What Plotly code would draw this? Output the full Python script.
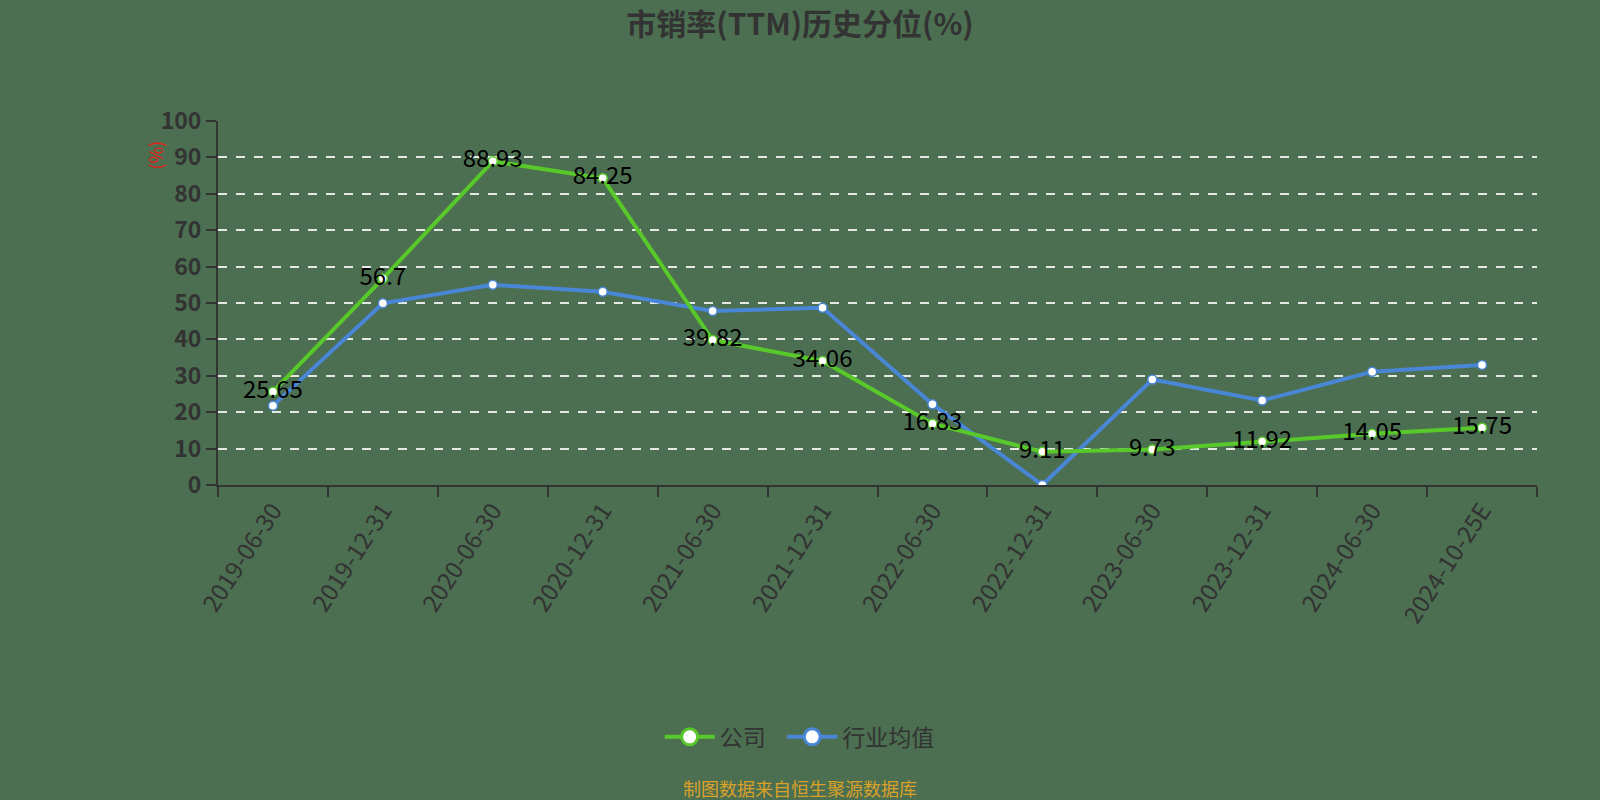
import plotly.graph_objects as go

categories = ["2019-06-30", "2019-12-31", "2020-06-30", "2020-12-31", "2021-06-30",
              "2021-12-31", "2022-06-30", "2022-12-31", "2023-06-30", "2023-12-31",
              "2024-06-30", "2024-10-25E"]
company = [25.65, 56.7, 88.93, 84.25, 39.82, 34.06, 16.83, 9.11, 9.73, 11.92, 14.05, 15.75]
industry = [21.8, 49.9, 55.0, 53.1, 47.8, 48.7, 22.2, 0.0, 29.0, 23.2, 31.1, 33.0]
y_ticks = [0, 10, 20, 30, 40, 50, 60, 70, 80, 90, 100]

GREEN = "#58c82a"
BLUE = "#4a86d6"
BG = "#4b6f50"
TXT = "#333333"
FONT = "Noto Sans CJK SC"

fig = go.Figure()

fig.add_trace(go.Scatter(
    x=categories, y=industry, mode="lines+markers", name="行业均值",
    line=dict(color=BLUE, width=4),
    marker=dict(size=9, color="white", line=dict(color=BLUE, width=1.5)),
    showlegend=False, hoverinfo="x+y"))

fig.add_trace(go.Scatter(
    x=categories, y=company, mode="lines+markers+text", name="公司",
    line=dict(color=GREEN, width=4),
    marker=dict(size=9, color="white", line=dict(color=GREEN, width=1.5)),
    text=[f"{v:g}" for v in company], textposition="middle center",
    textfont=dict(color="black", size=24, family=FONT),
    showlegend=False, hoverinfo="x+y"))

# legend entries
fig.add_trace(go.Scatter(
    x=[None], y=[None], mode="lines+markers", name="公司\u2002",
    line=dict(color=GREEN, width=4),
    marker=dict(size=16, color="white", line=dict(color=GREEN, width=3))))
fig.add_trace(go.Scatter(
    x=[None], y=[None], mode="lines+markers", name="行业均值",
    line=dict(color=BLUE, width=4),
    marker=dict(size=16, color="white", line=dict(color=BLUE, width=3))))

fig.update_layout(
    width=1600, height=800,
    paper_bgcolor=BG, plot_bgcolor=BG,
    margin=dict(l=218, r=63, t=121, b=315),
    font=dict(family=FONT, color=TXT),
    title=dict(text="<b>市销率(TTM)历史分位(%)</b>", x=0.5, xanchor="center",
               y=0.969, yanchor="middle", font=dict(size=30, color=TXT, family=FONT)),
    showlegend=True,
    legend=dict(orientation="h", x=0.441, xanchor="center", y=-0.692, yanchor="middle",
                font=dict(size=23, color=TXT, family=FONT), bgcolor="rgba(0,0,0,0)",
                itemsizing="trace", itemwidth=50, traceorder="normal"),
    xaxis=dict(
        type="category", categoryorder="array", categoryarray=categories,
        tickson="boundaries", ticks="outside", ticklen=10, tickcolor=TXT, tickwidth=2,
        showline=True, linecolor=TXT, linewidth=2, showgrid=False, zeroline=False,
        tickangle=-57, tickfont=dict(size=24, color=TXT, family=FONT),
        range=[-0.5, len(categories) - 0.5]),
    yaxis=dict(
        range=[0, 100], tickvals=y_ticks, ticktext=[str(t) for t in y_ticks],
        ticks="outside", ticklen=10, tickcolor=TXT, tickwidth=2,
        showline=True, linecolor=TXT, linewidth=2,
        showgrid=True, gridcolor="rgba(255,255,255,0.85)", griddash="dash", gridwidth=1.5,
        zeroline=False, tickfont=dict(size=23, color=TXT, family=FONT, weight="bold")),
    annotations=[
        dict(text="(%)", xref="paper", yref="paper", x=-0.048, y=0.907,
             xanchor="center", yanchor="middle", textangle=-90, showarrow=False,
             font=dict(size=18, color="#e0201a", family=FONT)),
        dict(text="制图数据来自恒生聚源数据库", xref="paper", yref="paper", x=0.441, y=-0.832,
             xanchor="center", yanchor="middle", showarrow=False,
             font=dict(size=18, color="#d9a12a", family=FONT)),
    ],
)

fig.write_html("out.html", config={"displayModeBar": False},
               post_script="document.body.style.margin='0';document.body.style.overflow='hidden';")
